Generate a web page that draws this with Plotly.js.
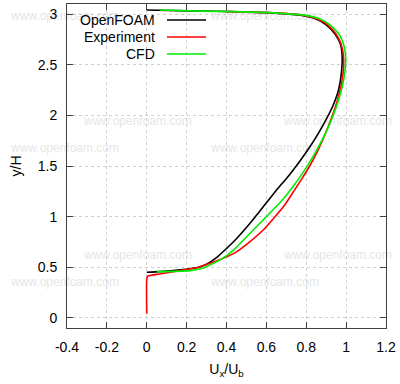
<!DOCTYPE html>
<html>
<head>
<meta charset="utf-8">
<script src="https://cdn.plot.ly/plotly-3.0.1.min.js"></script>
<style>
  html, body { margin: 0; padding: 0; background: #fff; }
  #chart { width: 400px; height: 384px; }
</style>
</head>
<body>
<div id="chart"></div>
<script>
// Velocity profile: U_x/U_b against y/H
const seriesNames = ['OpenFOAM', 'Experiment', 'CFD'];
const seriesColors = ['#000000', '#ff0000', '#00ee00'];

const openfoamX = [0, 0.066, 0.167, 0.25, 0.30, 0.35, 0.40, 0.452, 0.518, 0.585, 0.65, 0.71, 0.765, 0.815, 0.86, 0.90, 0.935, 0.962, 0.976, 0.98, 0.972, 0.945, 0.90, 0.84, 0.77, 0.6, 0.43, 0.27, 0];
const openfoamY = [0.45, 0.457, 0.474, 0.495, 0.53, 0.595, 0.685, 0.787, 0.935, 1.10, 1.26, 1.40, 1.54, 1.68, 1.82, 1.96, 2.10, 2.25, 2.415, 2.58, 2.70, 2.80, 2.895, 2.96, 2.99, 3.015, 3.025, 3.03, 3.04];

const experimentX = [0, 0, 0.004, 0.066, 0.167, 0.26, 0.318, 0.385, 0.452, 0.518, 0.58, 0.635, 0.69, 0.737, 0.78, 0.82, 0.855, 0.885, 0.912, 0.937, 0.958, 0.975, 0.985, 0.988, 0.982, 0.965, 0.935, 0.89, 0.83, 0.76, 0.6, 0.4];
const experimentY = [0.04, 0.38, 0.41, 0.434, 0.467, 0.50, 0.54, 0.59, 0.655, 0.753, 0.86, 0.98, 1.11, 1.25, 1.38, 1.51, 1.64, 1.77, 1.90, 2.03, 2.16, 2.29, 2.42, 2.55, 2.65, 2.75, 2.84, 2.92, 2.97, 2.995, 3.015, 3.025];

const cfdX = [0.05, 0.217, 0.28, 0.32, 0.368, 0.435, 0.518, 0.60, 0.68, 0.735, 0.785, 0.83, 0.87, 0.905, 0.935, 0.96, 0.98, 0.993, 0.998, 0.99, 0.965, 0.915, 0.86, 0.79, 0.6, 0.43, 0.27, 0.066];
const cfdY = [0.457, 0.467, 0.49, 0.525, 0.573, 0.67, 0.836, 1.0, 1.165, 1.30, 1.44, 1.58, 1.72, 1.86, 2.0, 2.14, 2.28, 2.42, 2.56, 2.68, 2.80, 2.90, 2.96, 2.99, 3.015, 3.025, 3.03, 3.04];

const xTicks = [-0.4, -0.2, 0, 0.2, 0.4, 0.6, 0.8, 1, 1.2];
const yTicks = [0, 0.5, 1, 1.5, 2, 2.5, 3];
const watermarkText = 'www.openfoam.com';

const W = 400, H = 384;
const M = { l: 67, r: 14, t: 4, b: 56 };
const pw = W - M.l - M.r, ph = H - M.t - M.b;
// pixel position -> paper coordinates
const px = x => (x - M.l) / pw;
const py = y => (H - M.b - y) / ph;

const FONT = 'Liberation Sans, Arial, sans-serif';

const xs = [openfoamX, experimentX, cfdX];
const ys = [openfoamY, experimentY, cfdY];
const traces = seriesNames.map((name, i) => ({
  type: 'scatter', mode: 'lines', name: name,
  x: xs[i], y: ys[i],
  line: { color: seriesColors[i], width: 1.6, shape: 'spline', smoothing: 0.6 },
  showlegend: false
}));

const shapes = [];
const annotations = [];

// faint tiled site watermark, kept beneath the curves
const marks = [[65, 15], [265, 15], [138, 120], [338, 120], [65, 147], [265, 147],
               [138, 254], [338, 254], [65, 281], [265, 281]];
marks.forEach(([cx, cy]) => {
  shapes.push({
    type: 'rect', xref: 'paper', yref: 'paper', layer: 'below',
    x0: px(cx - 60), x1: px(cx + 60), y0: py(cy + 8), y1: py(cy - 8),
    line: { width: 0, color: 'rgba(0,0,0,0)' }, fillcolor: 'rgba(0,0,0,0)',
    label: { text: watermarkText, textposition: 'middle center',
             font: { family: FONT, size: 12, color: '#e6e6e6' } }
  });
});

// key: right-aligned names followed by a line sample
const keyRows = [20, 37, 54];
seriesNames.forEach((name, i) => {
  annotations.push({
    xref: 'paper', yref: 'paper', x: px(157), y: py(keyRows[i]),
    xanchor: 'right', yanchor: 'middle', showarrow: false,
    text: name, font: { family: FONT, size: 14, color: '#000' }
  });
  shapes.push({
    type: 'line', xref: 'paper', yref: 'paper',
    x0: px(167), x1: px(206), y0: py(keyRows[i]), y1: py(keyRows[i]),
    line: { color: seriesColors[i], width: 1.6 }
  });
});

const axisCommon = {
  showline: true, linecolor: '#404040', linewidth: 1, mirror: 'allticks',
  ticks: 'inside', ticklen: 6, tickcolor: '#404040', tickwidth: 1,
  showgrid: true, gridcolor: '#d0d0d0', griddash: 'dot', gridwidth: 1,
  zeroline: false, automargin: false,
  tickfont: { family: FONT, size: 14, color: '#000' }
};

const layout = {
  width: W, height: H,
  margin: M,
  paper_bgcolor: '#ffffff', plot_bgcolor: 'rgba(0,0,0,0)',
  showlegend: false,
  xaxis: Object.assign({}, axisCommon, {
    range: [-0.4, 1.2], tickvals: xTicks, ticktext: xTicks.map(String),
    ticklabelstandoff: 6,
    title: { text: 'U<sub>x</sub>/U<sub>b</sub>', standoff: 10,
             font: { family: FONT, size: 14, color: '#000' } }
  }),
  yaxis: Object.assign({}, axisCommon, {
    range: [-0.1, 3.1], tickvals: yTicks, ticktext: yTicks.map(String),
    ticklabelstandoff: 6,
    title: { text: 'y/H', standoff: 12,
             font: { family: FONT, size: 14, color: '#000' } }
  }),
  shapes: shapes,
  annotations: annotations
};

Plotly.newPlot('chart', traces, layout, { staticPlot: true, displayModeBar: false });
</script>
</body>
</html>
